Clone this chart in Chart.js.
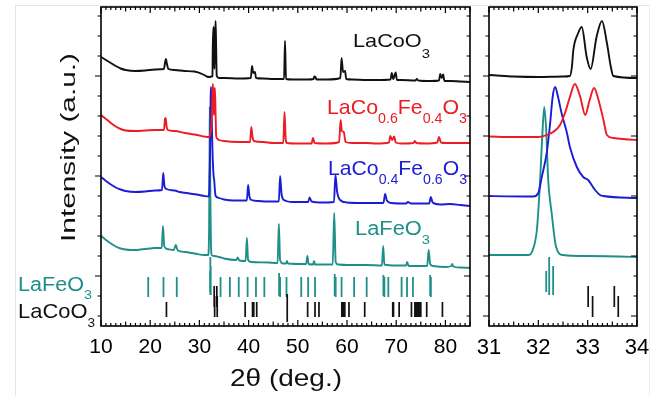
<!DOCTYPE html>
<html><head><meta charset="utf-8">
<script src="https://cdn.jsdelivr.net/npm/chart.js@4/dist/chart.umd.min.js"></script>
<style>
html,body{margin:0;padding:0;background:#fff;}
body{width:662px;height:396px;position:relative;overflow:hidden;}
#frame{position:absolute;left:15px;top:5px;width:633px;height:400px;border-top:1px solid #e4e4e4;border-left:1px solid #e4e4e4;border-right:1px solid #efefef;}
#wa{position:absolute;left:0;top:0;width:480px;height:396px;}
#wb{position:absolute;left:462px;top:0;width:200px;height:396px;}
canvas{display:block;}
</style></head>
<body>
<div id="frame"></div>
<div id="wa"><canvas id="ca" width="480" height="396"></canvas></div>
<div id="wb"><canvas id="cb" width="200" height="396"></canvas></div>
<script>
// ---------- data (2theta in degrees, intensity in arbitrary offset units) ----------
const lacoo3Trace = [[10,269],[11,266],[12,263],[13,260],[14,257.5],[15,256],[17,255],[19,255.5],[21,256.5],[22.8,257],[23.0,263],[23.2,267],[23.4,262],[23.7,257],[25,256],[27,255],[29,254.5],[31,251],[31.5,249.5],[32,249],[32.5,249.5],[32.64,250],[32.68,259],[32.71,276],[32.8,292],[32.88,299],[32.98,269],[33.06,257],[33.18,289],[33.29,305],[33.39,283],[33.47,259],[33.52,250],[34,248],[35,248],[38,247.5],[40.45,248],[40.7,260],[40.95,253],[41.3,254],[41.5,248],[43,247.5],[45,247],[47.2,247],[47.4,285],[47.6,247],[49,246.5],[52,246.5],[53.2,247],[53.35,249.5],[53.6,249],[53.8,246.5],[56,246.5],[58.65,248],[58.9,268],[59.2,254],[59.6,255],[59.85,247],[61,246.5],[64,246],[66,246],[68.85,246.5],[69.1,253],[69.4,247],[69.9,253.5],[70.15,246],[71,246],[73.9,245.5],[74.2,247],[74.5,245.5],[77,245],[78.7,245.5],[78.95,252],[79.25,248],[79.55,251.5],[79.8,245],[81,245],[83,244.5],[85,244]];
const co06Trace = [[10,211],[11,207],[12,203],[13,199.5],[14,197],[15,195.5],[17,195],[19,195.5],[21,196],[22.8,196],[23.0,207],[23.15,208],[23.35,199],[23.6,196],[25,195],[27,193],[29,191.5],[31,189.5],[31.5,189],[32,189],[32.17,191],[32.3,194],[32.44,201],[32.54,213],[32.64,229],[32.74,242],[32.85,229],[32.95,211],[33.04,226],[33.13,238],[33.22,226],[33.32,206],[33.39,191],[33.52,188],[34,186],[35,185],[38,184],[40.3,184],[40.55,199],[40.8,189],[41.1,185],[43,184],[45,183],[47.05,183],[47.3,214],[47.55,186],[47.8,183],[50,182.5],[52.8,182.5],[53.1,188],[53.4,183],[56,182.5],[58.4,184],[58.7,206],[58.95,195],[59.35,194],[59.7,184],[61,183],[64,183],[66,182.5],[68.55,183.5],[68.8,190],[69.2,186],[69.6,189.5],[69.9,183.5],[71,182.5],[73.5,183],[73.8,185],[74.1,183],[76,182.5],[78.35,183.5],[78.7,189],[79.1,183.5],[80,183],[83,183],[85,183]];
const co04Trace = [[10,149],[11,145],[12,141.5],[13,138.5],[14,136.5],[15,135],[17,134],[19,134.5],[21,135.5],[22.4,136],[22.65,153],[22.9,140],[23.3,137],[25,135.5],[26,134],[28,132.5],[30,131],[31,130],[31.9,129.5],[32.0,133],[32.07,149],[32.17,173],[32.24,203],[32.29,229],[32.34,239],[32.4,229],[32.47,213],[32.58,193],[32.64,179],[32.78,159],[32.91,149],[33.01,146],[33.15,136],[33.25,131],[33.32,130],[34,128],[35,126.5],[37,125.5],[39.65,125.5],[39.9,141],[40.2,129],[40.6,126],[42,125],[44,124.5],[46.15,124.5],[46.4,150],[46.7,132],[47.2,126],[49,124],[52.1,124],[52.4,128.5],[52.8,124.5],[55,123.5],[57.35,124],[57.65,151],[58.0,134],[58.6,126],[60,123.5],[63,123],[67.4,123],[67.75,132],[68.1,125.5],[69,123],[72,122.5],[72.4,124],[73,122.5],[76.7,122.5],[77.05,129],[77.4,123.5],[79,121.5],[81,122],[83,121],[85,120]];
const lafeo3Trace = [[10,90],[11,86],[12,82.5],[13,79.5],[14,77.5],[15,76.5],[16,76],[17,76],[18,76.5],[19,77],[20,77.5],[21,78],[22.35,78],[22.6,100],[22.85,80],[23.5,77],[24.8,76],[25.2,81],[25.6,75.5],[27,74],[29,72.5],[31,71],[31.8,71],[31.87,74],[31.97,96],[32.03,140],[32.08,190],[32.12,219],[32.16,195],[32.2,146],[32.27,113],[32.36,79],[32.5,71],[33,70],[34,69],[35,67.5],[37.5,66],[37.8,68.5],[38.1,65.5],[39.4,65],[39.65,88],[39.9,66],[40.5,64],[44,63.5],[45.9,63],[46.15,102],[46.4,66],[47,62.5],[47.6,62.5],[47.8,65],[48,62.5],[51.7,62],[51.95,70],[52.2,62],[53.1,61.5],[53.3,65],[53.5,61.5],[57.1,61.5],[57.4,113],[57.7,64],[58.2,61.5],[60,61],[64,61],[67.1,60.5],[67.35,80],[67.6,61.5],[70,60.5],[72,60.5],[72.25,64],[72.5,60],[76.3,60],[76.6,76],[76.9,62],[77.5,60],[80,59],[81.2,60],[81.4,62],[81.6,59.5],[83,58.5],[85,58]];
// reference patterns: [2theta, low, high]
const lafeo3Sticks = [[19.6,29,49],[22.7,29,49],[25.4,29,49],[32.16,34,55],[32.22,31,69],[32.30,31,60],[34.3,29,49],[36.2,29,49],[38.0,29,49],[39.8,29,49],[41.5,29,49],[43.2,29,49],[46.2,30,53],[46.4,29,49],[47.7,29,49],[50.7,29,49],[52.1,29,49],[53.5,29,49],[57.5,30,52],[57.7,29,49],[58.9,29,49],[61.45,29,49],[64.0,29,49],[67.4,30,51],[67.6,29,49],[68.4,29,49],[71.1,29,49],[72.2,29,49],[73.4,29,49],[76.9,30,51],[77.05,29,49]];
const lacoo3Sticks = [[23.3,9,24],[33.01,19,40],[33.10,9,30],[33.54,19,40],[33.62,9,30],[39.3,9,24],[40.8,9,24],[41.05,9,24],[41.65,9,24],[47.85,4,32],[52.0,9,24],[53.5,9,24],[54.3,9,24],[58.95,9,24],[59.1,9,24],[59.3,9,24],[59.55,9,24],[60.4,9,24],[63.6,9,24],[69.3,9,24],[69.45,9,24],[70.6,9,24],[73.1,9,24],[73.8,9,24],[74.0,9,24],[74.2,9,24],[74.4,9,24],[74.6,9,24],[74.8,9,24],[75.0,9,24],[76.2,9,24],[79.4,9,24]];
const xTicksWide = [10,20,30,40,50,60,70,80];
const xTicksZoom = [31,32,33,34];

// ---------- helpers ----------
const FONT = '"Liberation Sans", Arial, Helvetica, sans-serif';
const COL = {k:'#111111', r:'#ec1c24', b:'#1c1cd6', t:'#1f8f8a'};
const toXY = a => a.map(([x,y]) => ({x,y}));
const sticksXY = a => { const o=[]; a.forEach(([p,lo,hi]) => o.push({x:p,y:lo},{x:p,y:hi},{x:p,y:null})); return o; };

function makeDatasets(){
  const tr = {cubicInterpolationMode:'monotone', borderWidth:1.9};
  return [
    {data:sticksXY(lacoo3Sticks), borderColor:COL.k, borderWidth:1.7},
    {data:sticksXY(lafeo3Sticks), borderColor:COL.t, borderWidth:1.8},
    Object.assign({data:toXY(lacoo3Trace), borderColor:COL.k}, tr),
    Object.assign({data:toXY(co06Trace), borderColor:COL.r}, tr),
    Object.assign({data:toXY(co04Trace), borderColor:COL.b}, tr),
    Object.assign({data:toXY(lafeo3Trace), borderColor:COL.t}, tr)
  ].map(d => Object.assign({pointRadius:0, borderWidth:1.9, tension:0, spanGaps:false, fill:false}, d));
}

function drawRich(ctx, t){
  ctx.save();
  ctx.fillStyle = t.color;
  ctx.textBaseline = 'alphabetic';
  let total = 0;
  const ws = t.parts.map(([s,sub]) => { ctx.font = (sub ? t.sub : t.size) + 'px ' + FONT; const w = ctx.measureText(s).width; total += w; return w; });
  const sx = t.width ? t.width / total : 1;
  ctx.translate(t.x, t.y);
  if (t.rot) ctx.rotate(t.rot);
  if (t.align === 'center') ctx.translate(-total*sx/2, 0);
  ctx.scale(sx, 1);
  let cx = 0;
  t.parts.forEach(([s,sub], i) => { ctx.font = (sub ? t.sub : t.size) + 'px ' + FONT; ctx.fillText(s, cx, sub ? t.drop : 0); cx += ws[i]; });
  ctx.restore();
}

function decoPlugin(cfg){
  return {
    id:'deco',
    afterDatasetsDraw(chart){
      const {ctx, chartArea:a, scales:{x,y}} = chart;
      ctx.save();
      ctx.strokeStyle = '#000'; ctx.lineWidth = 1.2;
      ctx.beginPath();
      const nx = Math.round((cfg.xMax - cfg.xMin)/cfg.xStep);
      for (let i=0;i<=nx;i++){
        const px = x.getPixelForValue(cfg.xMin + i*cfg.xStep);
        const L = i % cfg.xMajor === 0 ? 6 : (i % cfg.xMid === 0 ? 4.5 : 3);
        ctx.moveTo(px, a.bottom); ctx.lineTo(px, a.bottom - L);
        ctx.moveTo(px, a.top); ctx.lineTo(px, a.top + L);
      }
      for (let v=cfg.yStart; v<=y.max; v+=cfg.yStep){
        const py = y.getPixelForValue(v);
        const L = ((v - cfg.yMajorStart) % cfg.yMajorStep) === 0 ? 6 : 3.5;
        ctx.moveTo(a.left, py); ctx.lineTo(a.left - L, py);
        ctx.moveTo(a.right, py); ctx.lineTo(a.right - L, py);
      }
      ctx.stroke();
      ctx.lineWidth = 1.6;
      ctx.strokeRect(a.left, a.top, a.right - a.left, a.bottom - a.top);
      ctx.restore();
      (cfg.texts || []).forEach(t => drawRich(ctx, t));
    }
  };
}

function makeChart(id, o){
  return new Chart(document.getElementById(id), {
    type:'line',
    data:{datasets: makeDatasets()},
    options:{
      responsive:false, animation:false, events:[],
      layout:{padding:o.pad},
      plugins:{legend:{display:false}, tooltip:{enabled:false}},
      scales:{
        x:{type:'linear', min:o.xMin, max:o.xMax,
           afterBuildTicks: s => { s.ticks = o.ticks.map(v => ({value:v})); },
           afterFit: s => { s.height = 70; },
           grid:{display:false, drawTicks:false}, border:{display:false},
           ticks:{font:{size:o.tickSize, family:FONT}, color:'#000', padding:9, maxRotation:0, autoSkip:false, callback: v => String(v)}},
        y:{type:'linear', min:0, max:319, display:false}
      }
    },
    plugins:[decoPlugin(o.deco)]
  });
}

const wideTexts = [
  {parts:[['LaCoO'],['3',1]], x:353, y:47, size:19, sub:13, drop:10.5, width:77, color:COL.k},
  {parts:[['LaCo'],['0.6',1],['Fe'],['0.4',1],['O'],['3',1]], x:327, y:114, size:21, sub:14, drop:9, width:140, color:COL.r},
  {parts:[['LaCo'],['0.4',1],['Fe'],['0.6',1],['O'],['3',1]], x:328, y:174.5, size:21, sub:14, drop:9, width:139, color:COL.b},
  {parts:[['LaFeO'],['3',1]], x:355, y:234.5, size:20, sub:13.5, drop:9, width:75, color:COL.t},
  {parts:[['LaFeO'],['3',1]], x:18, y:290.7, size:19.5, sub:13, drop:8, width:74, color:COL.t},
  {parts:[['LaCoO'],['3',1]], x:18, y:318.3, size:21, sub:13, drop:8.4, width:77, color:COL.k},
  {parts:[['Intensity (a.u.)']], x:75, y:147.5, size:21, width:189, color:'#111', rot:-Math.PI/2, align:'center'},
  {parts:[['2θ (deg.)']], x:286, y:385.5, size:24, width:112, color:'#111', align:'center'}
];

makeChart('ca', {pad:{left:101, right:10, top:7, bottom:0}, xMin:10, xMax:85, ticks:xTicksWide, tickSize:21,
  deco:{xMin:10, xMax:85, xStep:1, xMajor:10, xMid:5, yStart:10, yStep:20, yMajorStart:50, yMajorStep:100, texts:wideTexts}});
makeChart('cb', {pad:{left:27, right:25, top:7, bottom:0}, xMin:31, xMax:34, ticks:xTicksZoom, tickSize:22,
  deco:{xMin:31, xMax:34, xStep:0.1, xMajor:10, xMid:5, yStart:10, yStep:20, yMajorStart:10, yMajorStep:60, texts:[]}});
</script>
</body></html>
